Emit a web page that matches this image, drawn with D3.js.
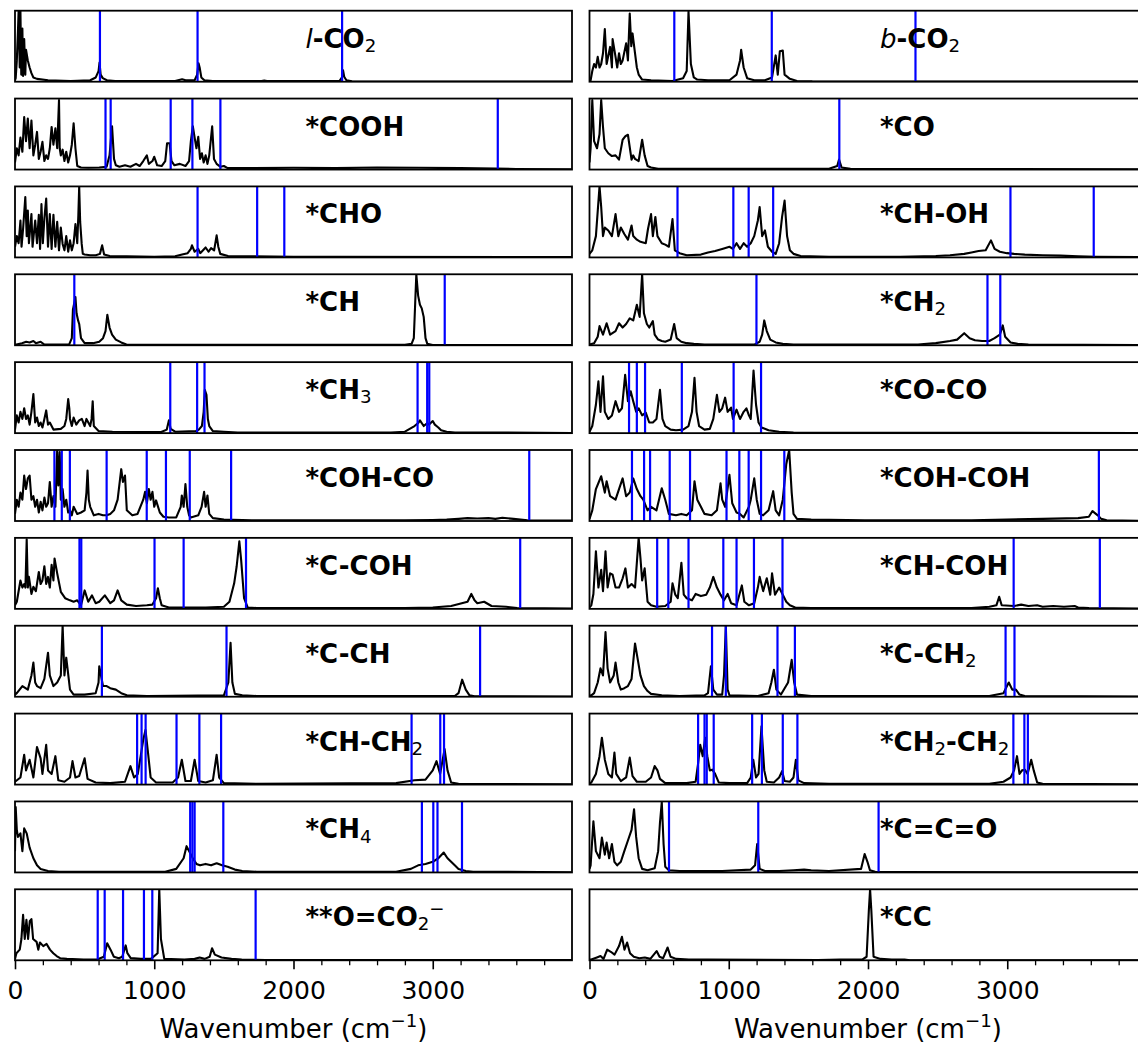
<!DOCTYPE html>
<html>
<head>
<meta charset="utf-8">
<script src="https://cdn.jsdelivr.net/npm/d3@7"></script>
<style>
  body { margin: 0; background: #fff; }
  text { font-family: 'DejaVu Sans', sans-serif; }
</style>
</head>
<body>
<script>
/* jshint esversion: 6 */

// spectra: [wavenumber, relative intensity]
var specLCO2 = [[0,0.02],[5,0.05],[13,0.3],[21,0.7],[26,1.0],[34,0.2],[39,1.0],[45,0.1],[53,0.75],[58,0.08],[66,0.6],[74,0.1],[79,0.45],[92,0.3],[105,0.2],[118,0.12],[132,0.06],[158,0.04],[237,0.02],[400,0.01],[540,0.02],[580,0.06],[600,0.15],[607,0.27],[615,0.1],[630,0.05],[660,0.02],[720,0.01],[1150,0.01],[1200,0.035],[1225,0.02],[1290,0.02],[1308,0.1],[1318,0.26],[1326,0.2],[1338,0.06],[1360,0.02],[1420,0.01],[1770,0.01],[1790,0.015],[1810,0.01],[2330,0.01],[2348,0.06],[2356,0.16],[2364,0.07],[2380,0.02],[2420,0.005],[4000,0.003]];
var specCOOH = [[0,0.1],[13,0.3],[26,0.2],[39,0.45],[53,0.25],[66,0.74],[79,0.4],[92,0.72],[105,0.3],[118,0.69],[132,0.2],[145,0.35],[158,0.53],[171,0.15],[184,0.25],[197,0.39],[211,0.12],[224,0.2],[237,0.15],[250,0.3],[263,0.6],[276,0.35],[290,0.58],[303,0.3],[316,0.98],[321,0.3],[329,0.2],[342,0.28],[355,0.12],[368,0.25],[382,0.1],[395,0.2],[408,0.35],[421,0.65],[434,0.3],[447,0.05],[474,0.03],[526,0.025],[605,0.03],[658,0.04],[679,0.2],[697,0.61],[711,0.15],[724,0.06],[750,0.04],[790,0.06],[829,0.04],[869,0.08],[895,0.05],[921,0.12],[947,0.2],[961,0.08],[987,0.12],[1000,0.18],[1021,0.06],[1053,0.05],[1079,0.12],[1092,0.37],[1110,0.37],[1124,0.12],[1145,0.06],[1184,0.08],[1224,0.05],[1250,0.12],[1263,0.4],[1277,0.61],[1290,0.45],[1303,0.3],[1316,0.46],[1329,0.15],[1342,0.23],[1355,0.1],[1369,0.2],[1382,0.08],[1395,0.2],[1416,0.61],[1429,0.15],[1448,0.08],[1474,0.04],[1500,0.05],[1527,0.02],[1700,0.02],[2000,0.025],[2300,0.02],[2600,0.03],[2900,0.025],[3200,0.02],[3450,0.015],[3600,0.008],[4000,0.005]];
var specCHO = [[0,0.15],[13,0.3],[26,0.2],[39,0.52],[47,0.15],[58,0.4],[74,0.85],[84,0.3],[92,0.66],[100,0.2],[118,0.61],[126,0.15],[145,0.52],[158,0.2],[171,0.6],[180,0.12],[190,0.75],[200,0.2],[211,0.55],[224,0.83],[237,0.15],[250,0.61],[263,0.12],[276,0.6],[290,0.15],[303,0.5],[316,0.1],[329,0.42],[342,0.19],[355,0.1],[368,0.3],[382,0.08],[395,0.24],[408,0.1],[421,0.2],[434,0.47],[447,0.2],[455,0.6],[461,1.0],[468,0.5],[479,0.19],[487,0.05],[500,0.04],[540,0.03],[580,0.03],[610,0.05],[626,0.17],[640,0.04],[680,0.02],[800,0.015],[1000,0.01],[1150,0.015],[1200,0.04],[1240,0.06],[1263,0.12],[1271,0.17],[1290,0.08],[1316,0.12],[1330,0.06],[1369,0.14],[1390,0.08],[1408,0.13],[1430,0.1],[1448,0.31],[1460,0.15],[1474,0.05],[1530,0.02],[1700,0.015],[2000,0.01],[2300,0.008],[4000,0.004]];
var specCH = [[0,0.005],[50,0.03],[80,0.05],[105,0.04],[132,0.06],[150,0.03],[184,0.05],[211,0.01],[300,0.01],[390,0.015],[408,0.1],[416,0.5],[426,0.6],[434,0.68],[442,0.45],[453,0.35],[461,0.3],[474,0.1],[500,0.03],[560,0.03],[605,0.05],[632,0.1],[650,0.2],[663,0.43],[679,0.25],[697,0.15],[724,0.08],[763,0.04],[800,0.01],[1000,0.008],[2800,0.008],[2848,0.02],[2864,0.1],[2874,0.6],[2882,1.0],[2895,0.7],[2908,0.57],[2921,0.52],[2935,0.4],[2948,0.1],[2961,0.02],[3000,0.005],[4000,0.002]];
var specCH3 = [[0,0.05],[13,0.25],[26,0.15],[39,0.3],[53,0.2],[66,0.35],[79,0.2],[92,0.25],[105,0.12],[118,0.3],[132,0.55],[145,0.15],[158,0.22],[171,0.1],[184,0.15],[197,0.08],[211,0.2],[224,0.32],[237,0.12],[250,0.15],[276,0.05],[329,0.06],[355,0.1],[368,0.2],[382,0.48],[390,0.35],[395,0.2],[408,0.1],[421,0.22],[440,0.12],[461,0.18],[480,0.2],[500,0.1],[513,0.2],[540,0.1],[550,0.2],[558,0.45],[566,0.1],[600,0.03],[700,0.02],[900,0.015],[1050,0.015],[1090,0.05],[1105,0.18],[1118,0.06],[1150,0.02],[1300,0.03],[1320,0.05],[1342,0.1],[1355,0.3],[1363,0.61],[1375,0.54],[1385,0.2],[1395,0.1],[1421,0.03],[1500,0.02],[1600,0.01],[2700,0.01],[2800,0.02],[2869,0.1],[2895,0.14],[2908,0.18],[2935,0.1],[2961,0.14],[2974,0.12],[3000,0.17],[3015,0.12],[3040,0.08],[3060,0.04],[3100,0.02],[3160,0.01],[4000,0.003]];
var specCOHCO = [[0,0.1],[13,0.3],[26,0.2],[39,0.4],[53,0.3],[66,0.64],[79,0.45],[92,0.6],[105,0.64],[118,0.3],[132,0.35],[145,0.2],[158,0.3],[171,0.12],[184,0.27],[197,0.15],[211,0.33],[224,0.2],[237,0.25],[250,0.55],[263,0.2],[276,0.35],[290,0.2],[303,1.0],[311,0.5],[321,0.97],[329,0.3],[342,0.45],[355,0.2],[368,0.3],[382,0.12],[395,0.15],[408,0.08],[421,0.2],[447,0.1],[474,0.12],[500,0.15],[513,0.4],[521,0.71],[530,0.3],[540,0.2],[566,0.08],[600,0.1],[632,0.08],[658,0.08],[684,0.1],[711,0.15],[737,0.3],[755,0.6],[763,0.73],[775,0.55],[790,0.64],[803,0.15],[842,0.08],[880,0.1],[921,0.3],[934,0.41],[947,0.25],[961,0.45],[974,0.3],[987,0.41],[1000,0.2],[1013,0.29],[1040,0.12],[1066,0.06],[1105,0.05],[1158,0.05],[1190,0.2],[1198,0.36],[1211,0.2],[1224,0.52],[1237,0.2],[1250,0.08],[1263,0.05],[1316,0.08],[1340,0.2],[1358,0.41],[1369,0.2],[1382,0.36],[1395,0.1],[1421,0.04],[1500,0.02],[1700,0.01],[2800,0.01],[3000,0.015],[3100,0.02],[3185,0.03],[3250,0.04],[3320,0.035],[3400,0.04],[3450,0.03],[3500,0.045],[3580,0.03],[3680,0.01],[4000,0.005]];
var specCCOH = [[0,0.05],[13,0.1],[39,0.4],[53,0.3],[66,0.35],[75,0.3],[84,0.98],[92,0.3],[100,0.45],[118,0.21],[132,0.31],[150,0.25],[171,0.52],[184,0.35],[197,0.4],[211,0.6],[224,0.35],[237,0.45],[250,0.3],[263,0.62],[276,0.4],[284,0.71],[303,0.5],[329,0.24],[360,0.15],[395,0.12],[421,0.1],[447,0.12],[474,0.05],[500,0.26],[526,0.1],[553,0.19],[579,0.08],[605,0.1],[645,0.19],[684,0.08],[711,0.12],[737,0.26],[763,0.12],[803,0.06],[869,0.04],[947,0.05],[987,0.06],[1013,0.15],[1026,0.29],[1040,0.15],[1053,0.05],[1105,0.02],[1211,0.02],[1370,0.02],[1500,0.03],[1540,0.1],[1574,0.36],[1592,0.6],[1611,0.95],[1624,0.69],[1645,0.15],[1671,0.02],[1737,0.01],[2800,0.01],[3000,0.02],[3132,0.04],[3250,0.1],[3277,0.21],[3300,0.12],[3320,0.08],[3369,0.1],[3422,0.04],[3527,0.03],[3606,0.01],[4000,0.005]];
var specCCH = [[0,0.03],[13,0.05],[53,0.15],[92,0.1],[118,0.3],[132,0.48],[145,0.2],[158,0.15],[184,0.12],[211,0.25],[237,0.62],[250,0.3],[276,0.15],[303,0.2],[329,0.3],[342,1.0],[355,0.3],[368,0.55],[395,0.1],[421,0.03],[500,0.03],[579,0.05],[600,0.2],[605,0.43],[632,0.15],[658,0.15],[684,0.12],[724,0.1],[763,0.05],[803,0.02],[947,0.01],[1500,0.02],[1532,0.2],[1548,0.76],[1561,0.2],[1579,0.04],[1632,0.02],[1737,0.01],[3158,0.01],[3185,0.05],[3211,0.24],[3237,0.1],[3264,0.02],[3300,0.005],[4000,0.003]];
var specCHCH2 = [[0,0.04],[39,0.1],[66,0.42],[79,0.2],[105,0.35],[132,0.1],[158,0.53],[184,0.37],[197,0.15],[224,0.56],[237,0.2],[263,0.15],[290,0.4],[311,0.06],[355,0.04],[395,0.1],[413,0.33],[434,0.1],[461,0.12],[500,0.37],[521,0.08],[579,0.03],[684,0.02],[790,0.04],[829,0.26],[855,0.1],[882,0.15],[921,0.63],[937,0.77],[953,0.49],[974,0.1],[1013,0.03],[1132,0.03],[1171,0.1],[1198,0.35],[1224,0.05],[1263,0.05],[1290,0.35],[1316,0.05],[1369,0.03],[1421,0.06],[1448,0.42],[1466,0.1],[1500,0.02],[1737,0.01],[2737,0.02],[2869,0.06],[2948,0.07],[3000,0.2],[3027,0.33],[3053,0.15],[3085,0.5],[3106,0.2],[3132,0.03],[3185,0.01],[4000,0.003]];
var specCH4 = [[0,0.3],[5,0.92],[13,0.6],[21,0.5],[39,0.55],[53,0.3],[66,0.62],[84,0.55],[105,0.35],[132,0.2],[158,0.1],[184,0.05],[237,0.02],[316,0.01],[1079,0.01],[1158,0.05],[1211,0.2],[1232,0.37],[1250,0.3],[1277,0.2],[1303,0.12],[1329,0.1],[1369,0.12],[1408,0.1],[1448,0.13],[1487,0.1],[1527,0.08],[1579,0.04],[1632,0.02],[1737,0.01],[2737,0.01],[2843,0.05],[2895,0.1],[2948,0.12],[3000,0.15],[3040,0.2],[3079,0.28],[3106,0.2],[3132,0.15],[3158,0.1],[3185,0.05],[3237,0.02],[3290,0.01],[4000,0.003]];
var specOCO2 = [[0,0.02],[10,0.1],[34,0.15],[46,0.3],[58,0.64],[70,0.3],[82,0.57],[94,0.3],[106,0.55],[118,0.58],[130,0.3],[155,0.26],[167,0.15],[179,0.25],[203,0.2],[227,0.23],[251,0.15],[275,0.1],[299,0.06],[324,0.03],[372,0.02],[493,0.01],[589,0.01],[638,0.05],[662,0.24],[686,0.15],[710,0.05],[746,0.03],[770,0.05],[795,0.21],[807,0.1],[831,0.03],[903,0.02],[976,0.02],[1024,0.1],[1036,1.0],[1048,0.3],[1072,0.02],[1217,0.01],[1290,0.02],[1326,0.04],[1362,0.02],[1398,0.05],[1415,0.17],[1435,0.08],[1483,0.04],[1555,0.02],[1628,0.01],[1800,0.005],[4000,0.002]];

var specBCO2 = [[0,0.01],[8,0.02],[20,0.15],[33,0.25],[46,0.2],[59,0.35],[72,0.2],[84,0.25],[97,0.4],[110,0.74],[123,0.25],[148,0.49],[161,0.2],[166,0.6],[187,0.35],[199,0.2],[212,0.4],[225,0.25],[238,0.3],[263,0.54],[276,0.3],[289,0.96],[300,0.5],[309,0.68],[327,0.4],[340,0.2],[353,0.1],[378,0.03],[442,0.02],[596,0.01],[672,0.05],[698,0.15],[711,0.99],[728,0.25],[749,0.06],[774,0.03],[851,0.02],[1005,0.02],[1056,0.1],[1081,0.3],[1089,0.45],[1107,0.2],[1132,0.05],[1183,0.02],[1260,0.02],[1311,0.06],[1337,0.37],[1352,0.1],[1367,0.43],[1388,0.44],[1401,0.1],[1439,0.04],[1490,0.01],[1600,0.005],[4000,0.002]];
var specCO = [[0,0.1],[8,0.3],[20,0.98],[33,0.4],[54,0.3],[72,0.5],[84,0.98],[97,0.6],[110,0.3],[135,0.23],[161,0.19],[187,0.2],[212,0.14],[238,0.42],[258,0.47],[276,0.49],[302,0.14],[314,0.2],[327,0.15],[353,0.12],[378,0.42],[396,0.2],[417,0.05],[442,0.03],[493,0.01],[1720,0.01],[1779,0.05],[1792,0.14],[1810,0.03],[1874,0.01],[4000,0.002]];
var specCHOH = [[0,0.05],[20,0.1],[46,0.3],[72,1.0],[84,0.71],[97,0.3],[110,0.42],[135,0.38],[161,0.3],[187,0.61],[207,0.3],[225,0.42],[250,0.33],[276,0.25],[302,0.45],[314,0.3],[340,0.25],[366,0.22],[404,0.2],[420,0.4],[442,0.61],[455,0.3],[473,0.57],[488,0.3],[519,0.2],[544,0.18],[570,0.15],[596,0.54],[613,0.1],[647,0.06],[698,0.03],[800,0.04],[851,0.07],[902,0.09],[953,0.12],[1005,0.15],[1030,0.12],[1056,0.2],[1081,0.12],[1107,0.2],[1132,0.15],[1158,0.2],[1183,0.3],[1209,0.52],[1222,0.71],[1240,0.3],[1260,0.38],[1281,0.15],[1311,0.08],[1337,0.05],[1362,0.2],[1383,0.57],[1401,0.8],[1419,0.3],[1439,0.1],[1465,0.05],[1516,0.02],[1720,0.01],[2231,0.01],[2487,0.02],[2589,0.03],[2691,0.05],[2743,0.07],[2794,0.09],[2845,0.1],[2883,0.24],[2909,0.12],[2947,0.08],[2998,0.06],[3049,0.05],[3126,0.04],[3254,0.03],[3382,0.025],[3509,0.015],[3637,0.01],[4000,0.004]];
var specCH2 = [[0,0.01],[33,0.03],[59,0.12],[72,0.27],[97,0.15],[123,0.31],[148,0.15],[187,0.2],[212,0.31],[238,0.25],[263,0.3],[289,0.38],[314,0.35],[340,0.57],[360,0.4],[378,1.0],[391,0.45],[412,0.3],[429,0.25],[455,0.34],[468,0.15],[493,0.08],[519,0.06],[544,0.05],[583,0.08],[608,0.3],[626,0.1],[659,0.05],[698,0.03],[749,0.02],[826,0.01],[1183,0.01],[1222,0.05],[1240,0.15],[1255,0.35],[1273,0.2],[1298,0.08],[1337,0.04],[1388,0.02],[1465,0.01],[2359,0.01],[2487,0.03],[2589,0.06],[2640,0.08],[2691,0.17],[2730,0.1],[2768,0.07],[2819,0.06],[2871,0.06],[2909,0.1],[2947,0.15],[2968,0.28],[2985,0.12],[3024,0.04],[3075,0.02],[3152,0.01],[4000,0.003]];
var specCOCO = [[0,0.02],[20,0.1],[46,0.4],[64,0.73],[79,0.3],[97,0.8],[110,0.3],[135,0.2],[161,0.25],[187,0.45],[212,0.3],[233,0.35],[256,0.82],[276,0.45],[296,0.59],[314,0.45],[335,0.3],[353,0.35],[378,0.25],[404,0.29],[429,0.15],[455,0.15],[481,0.2],[506,0.61],[524,0.2],[544,0.1],[583,0.05],[621,0.04],[672,0.05],[711,0.1],[736,0.3],[754,0.78],[769,0.3],[787,0.1],[826,0.05],[864,0.06],[889,0.2],[915,0.54],[933,0.3],[953,0.35],[974,0.5],[992,0.3],[1017,0.36],[1030,0.2],[1056,0.33],[1081,0.2],[1107,0.3],[1127,0.35],[1145,0.25],[1158,0.2],[1178,0.88],[1196,0.4],[1214,0.15],[1235,0.08],[1286,0.04],[1362,0.02],[1465,0.01],[1700,0.005],[4000,0.002]];
var specCOHCOH = [[0,0.03],[20,0.15],[46,0.45],[84,0.63],[110,0.4],[123,0.56],[148,0.35],[187,0.3],[212,0.45],[238,0.6],[263,0.35],[289,0.4],[314,0.6],[340,0.45],[366,0.35],[386,0.3],[417,0.15],[442,0.2],[481,0.15],[519,0.46],[544,0.3],[570,0.1],[621,0.08],[659,0.1],[698,0.08],[736,0.15],[754,0.56],[774,0.3],[800,0.2],[826,0.1],[877,0.08],[915,0.15],[941,0.53],[953,0.3],[974,0.2],[1005,0.65],[1025,0.25],[1056,0.12],[1081,0.1],[1107,0.05],[1145,0.2],[1158,0.3],[1183,0.6],[1201,0.3],[1222,0.1],[1247,0.08],[1286,0.15],[1319,0.42],[1337,0.15],[1362,0.08],[1388,0.3],[1413,0.8],[1434,1.0],[1452,0.4],[1465,0.1],[1490,0.03],[1592,0.02],[1976,0.01],[2743,0.01],[2998,0.02],[3254,0.03],[3509,0.04],[3586,0.06],[3612,0.14],[3650,0.08],[3675,0.03],[3714,0.01],[4000,0.003]];
var specCHCOH = [[0,0.02],[13,0.05],[28,0.21],[46,0.81],[64,0.3],[84,0.55],[97,0.25],[115,0.81],[130,0.3],[148,0.5],[166,0.48],[187,0.3],[212,0.3],[238,0.43],[258,0.57],[276,0.3],[302,0.35],[327,0.3],[353,1.0],[366,0.71],[378,0.4],[396,0.57],[417,0.1],[442,0.05],[481,0.03],[544,0.04],[583,0.1],[596,0.36],[616,0.2],[634,0.15],[660,0.65],[677,0.2],[698,0.15],[736,0.12],[762,0.21],[800,0.18],[838,0.2],[864,0.3],[889,0.45],[915,0.3],[941,0.2],[966,0.12],[992,0.21],[1017,0.08],[1056,0.05],[1094,0.33],[1112,0.1],[1145,0.05],[1183,0.08],[1209,0.3],[1222,0.45],[1247,0.25],[1273,0.43],[1298,0.2],[1311,0.5],[1332,0.2],[1362,0.3],[1388,0.2],[1413,0.1],[1439,0.05],[1477,0.02],[1592,0.01],[2743,0.01],[2871,0.03],[2922,0.05],[2942,0.17],[2960,0.05],[3049,0.04],[3100,0.06],[3152,0.04],[3215,0.05],[3254,0.03],[3330,0.04],[3407,0.03],[3484,0.04],[3509,0.02],[3586,0.01],[4000,0.003]];
var specCCH2 = [[0,0.01],[13,0.02],[33,0.05],[59,0.2],[79,0.4],[97,0.3],[115,0.91],[130,0.4],[148,0.2],[174,0.3],[187,0.48],[207,0.2],[225,0.1],[250,0.12],[276,0.15],[302,0.25],[327,0.75],[340,0.6],[366,0.3],[391,0.15],[417,0.08],[442,0.04],[519,0.02],[647,0.01],[826,0.02],[851,0.05],[872,0.43],[889,0.1],[915,0.03],[953,0.03],[966,0.3],[979,1.0],[992,0.1],[1005,0.02],[1209,0.01],[1286,0.05],[1306,0.2],[1324,0.38],[1342,0.1],[1375,0.03],[1426,0.2],[1452,0.52],[1470,0.2],[1490,0.03],[1592,0.01],[2871,0.01],[2973,0.05],[2998,0.15],[3011,0.2],[3036,0.1],[3062,0.1],[3088,0.03],[3126,0.01],[4000,0.003]];
var specCH2CH2 = [[0,0.01],[13,0.03],[46,0.15],[72,0.4],[89,0.66],[110,0.35],[135,0.15],[161,0.1],[179,0.45],[192,0.15],[225,0.05],[263,0.1],[289,0.38],[309,0.12],[340,0.04],[404,0.04],[442,0.1],[468,0.26],[488,0.2],[506,0.08],[544,0.02],[698,0.02],[762,0.04],[780,0.3],[795,0.56],[813,0.4],[831,0.66],[846,0.4],[864,0.2],[882,0.21],[902,0.15],[928,0.03],[1005,0.02],[1132,0.02],[1158,0.1],[1176,0.35],[1196,0.1],[1214,0.15],[1235,0.82],[1255,0.2],[1273,0.04],[1324,0.03],[1362,0.1],[1383,0.19],[1401,0.05],[1439,0.04],[1465,0.1],[1482,0.35],[1500,0.06],[1541,0.02],[1720,0.01],[2871,0.01],[2973,0.04],[3024,0.1],[3049,0.2],[3070,0.4],[3088,0.15],[3106,0.2],[3126,0.21],[3146,0.15],[3172,0.35],[3190,0.2],[3215,0.03],[3254,0.01],[4000,0.003]];
var specCCO = [[0,0.05],[8,0.1],[28,0.72],[46,0.3],[72,0.2],[89,0.49],[110,0.25],[123,0.42],[141,0.2],[161,0.4],[179,0.15],[199,0.1],[225,0.15],[250,0.3],[276,0.45],[302,0.6],[320,0.89],[335,0.5],[353,0.2],[378,0.05],[417,0.03],[468,0.06],[493,0.3],[506,0.7],[519,0.99],[532,0.4],[544,0.08],[570,0.03],[647,0.02],[953,0.02],[1056,0.03],[1158,0.04],[1189,0.1],[1204,0.4],[1222,0.05],[1260,0.02],[1362,0.02],[1465,0.03],[1541,0.04],[1592,0.03],[1720,0.02],[1950,0.05],[1976,0.26],[1996,0.15],[2014,0.03],[2052,0.01],[2231,0.005],[4000,0.002]];
var specCC = [[0,0.01],[13,0.01],[53,0.04],[79,0.06],[101,0.02],[127,0.15],[153,0.12],[180,0.08],[212,0.2],[233,0.33],[251,0.15],[270,0.25],[291,0.1],[318,0.05],[357,0.03],[397,0.04],[437,0.02],[482,0.13],[503,0.05],[529,0.03],[561,0.18],[582,0.05],[622,0.02],[714,0.01],[847,0.01],[1641,0.005],[1799,0.01],[1958,0.01],[1990,0.05],[2006,0.7],[2015,1.0],[2024,0.7],[2040,0.05],[2090,0.02],[2170,0.01],[2262,0.01],[2302,0],[4000,0]];

// blue lines (cm^-1)
var vibLCO2 = [610, 1311, 2349];
var vibCOOH = [650, 687, 1118, 1274, 1475, 3467];
var vibCHO = [1311, 1739, 1934];
var vibCH = [426, 3086];
var vibCH3 = [1115, 1308, 1361, 2891, 2960, 2975];
var vibCOHCO = [283, 336, 394, 658, 946, 1084, 1255, 1552, 3693];
var vibCCOH = [463, 476, 1002, 1211, 1659, 3628];
var vibCCH = [624, 1519, 3340];
var vibCHCH2 = [877, 909, 938, 1160, 1324, 1480, 2848, 3054, 3081];
var vibCH4 = [1258, 1274, 1290, 1496, 2922, 3004, 3034, 3210];
var vibOCO2 = [594, 644, 776, 926, 986, 1728];
var vibBCO2 = [609, 1309, 2341];
var vibCO = [1794];
var vibCHOH = [632, 1033, 1143, 1319, 3023, 3621];
var vibCH2 = [1199, 2858, 2950];
var vibCOCO = [284, 340, 399, 663, 1035, 1232];
var vibCOHCOH = [305, 392, 435, 576, 722, 984, 1076, 1143, 1232, 1399, 3658];
var vibCHCOH = [486, 566, 711, 961, 1056, 1181, 1386, 3046, 3665];
var vibCCH2 = [880, 979, 1350, 1475, 2988, 3052];
var vibCH2CH2 = [780, 826, 842, 892, 1168, 1238, 1388, 1493, 3044, 3123, 3148];
var vibCCO = [571, 1212, 2076];
var vibCC = [];

// ~ italic char, _ subscript char, ^ superscript char
var labelsLeft = ['~l-CO_2', '*COOH', '*CHO', '*CH', '*CH_3', '*COH-CO', '*C-COH', '*C-CH', '*CH-CH_2', '*CH_4', '**O=CO_2^\u2212'];
var labelsRight = ['~b-CO_2', '*CO', '*CH-OH', '*CH_2', '*CO-CO', '*COH-COH', '*CH-COH', '*C-CH_2', '*CH_2-CH_2', '*C=C=O', '*CC'];
var specsLeft = [specLCO2, specCOOH, specCHO, specCH, specCH3, specCOHCO, specCCOH, specCCH, specCHCH2, specCH4, specOCO2];
var specsRight = [specBCO2, specCO, specCHOH, specCH2, specCOCO, specCOHCOH, specCHCOH, specCCH2, specCH2CH2, specCCO, specCC];
var vibsLeft = [vibLCO2, vibCOOH, vibCHO, vibCH, vibCH3, vibCOHCO, vibCCOH, vibCCH, vibCHCH2, vibCH4, vibOCO2];
var vibsRight = [vibBCO2, vibCO, vibCHOH, vibCH2, vibCOCO, vibCOHCOH, vibCHCOH, vibCCH2, vibCH2CH2, vibCCO, vibCC];

var majorTicks = [0, 1000, 2000, 3000];
var minorTicks = [200, 400, 600, 800, 1200, 1400, 1600, 1800, 2200, 2400, 2600, 2800, 3200, 3400, 3600, 3800];

var width = 1138,
    height = 1044;

var colX = [15, 589.5],
    panelW = 557,
    panelH = 71,
    top0 = 10.7,
    rowStep = 87.86,
    labelSize = 26,
    tickSize = 25;

var svg = d3.select('body')
    .append('svg')
    .attr('width', width)
    .attr('height', height);

svg.append('defs').append('clipPath')
    .attr('id', 'panel-clip')
    .append('rect')
    .attr('width', panelW)
    .attr('height', panelH);

var x = d3.scaleLinear().domain([0, 4000]).range([0, panelW]);
var y = d3.scaleLinear().domain([0, 1]).range([panelH, 0]);

var line = d3.line()
    .x(d => x(d[0]))
    .y(d => y(d[1]));

function parseLabel(s) {
    var segs = [], buf = '', i = 0;
    while (i < s.length) {
        var c = s[i];
        if (c === '~' || c === '_' || c === '^') {
            if (buf) { segs.push({t: buf, k: 'b'}); buf = ''; }
            segs.push({t: s[i + 1], k: c === '~' ? 'i' : (c === '_' ? 's' : 'p')});
            i += 2;
        } else {
            buf += c;
            i++;
        }
    }
    if (buf) segs.push({t: buf, k: 'b'});
    return segs;
}

function drawLabel(g, str, x0, y0) {
    var cx = x0;
    parseLabel(str).forEach(function(s) {
        var el = g.append('text').text(s.t).attr('fill', '#000');
        if (s.k === 'b') {
            el.attr('font-weight', 'bold').attr('font-size', labelSize).attr('x', cx).attr('y', y0);
        } else if (s.k === 'i') {
            el.attr('font-style', 'italic').attr('font-size', labelSize).attr('x', cx).attr('y', y0);
        } else if (s.k === 's') {
            el.attr('font-size', labelSize * 0.7).attr('x', cx).attr('y', y0 + labelSize * 0.16);
        } else {
            // charge sign sits just right of the subscript, raised
            el.attr('font-size', labelSize * 0.7).attr('x', cx).attr('y', y0 - labelSize * 0.42);
        }
        cx += el.node().getComputedTextLength();
    });
}

function panel(col, row, spec, vib, label) {
    var g = svg.append('g')
        .attr('transform', 'translate(' + colX[col] + ',' + (top0 + row * rowStep) + ')');

    var inner = g.append('g').attr('clip-path', 'url(#panel-clip)');

    inner.append('path')
        .datum(spec)
        .attr('d', line)
        .attr('fill', 'none')
        .attr('stroke', '#000')
        .attr('stroke-width', 2.1)
        .attr('stroke-linejoin', 'round');

    drawLabel(g, label, 290.5, 37);

    inner.selectAll('.vib')
        .data(vib).enter()
        .append('line')
        .attr('class', 'vib')
        .attr('x1', d => x(d))
        .attr('x2', d => x(d))
        .attr('y1', 0)
        .attr('y2', panelH)
        .attr('stroke', '#0000ff')
        .attr('stroke-width', 2.2);

    g.append('rect')
        .attr('width', panelW)
        .attr('height', panelH)
        .attr('fill', 'none')
        .attr('stroke', '#000')
        .attr('stroke-width', 1.8);

    if (row === 10) {
        var major = g.append('g')
            .attr('transform', 'translate(0,' + panelH + ')')
            .call(d3.axisBottom(x).tickValues(majorTicks).tickSize(9).tickPadding(12).tickFormat(d3.format('d')));
        major.select('.domain').remove();
        major.selectAll('line').attr('stroke', '#000').attr('stroke-width', 1.6);
        major.selectAll('text')
            .attr('font-family', "'DejaVu Sans', sans-serif")
            .attr('font-size', tickSize)
            .attr('fill', '#000');

        var minor = g.append('g')
            .attr('transform', 'translate(0,' + panelH + ')')
            .call(d3.axisBottom(x).tickValues(minorTicks).tickSize(5).tickFormat(''));
        minor.select('.domain').remove();
        minor.selectAll('line').attr('stroke', '#000').attr('stroke-width', 1.3);

        var title = g.append('text')
            .attr('x', panelW / 2)
            .attr('y', 1038 - (top0 + row * rowStep))
            .attr('text-anchor', 'middle')
            .attr('font-size', labelSize)
            .attr('fill', '#000');
        title.append('tspan').text('Wavenumber (cm');
        title.append('tspan').attr('font-size', labelSize * 0.7).attr('dy', -labelSize * 0.42).text('\u22121');
        title.append('tspan').attr('dy', labelSize * 0.42).text(')');
    }
}

labelsLeft.forEach(function(lbl, i) { panel(0, i, specsLeft[i], vibsLeft[i], lbl); });
labelsRight.forEach(function(lbl, i) { panel(1, i, specsRight[i], vibsRight[i], lbl); });
</script>
</body>
</html>
